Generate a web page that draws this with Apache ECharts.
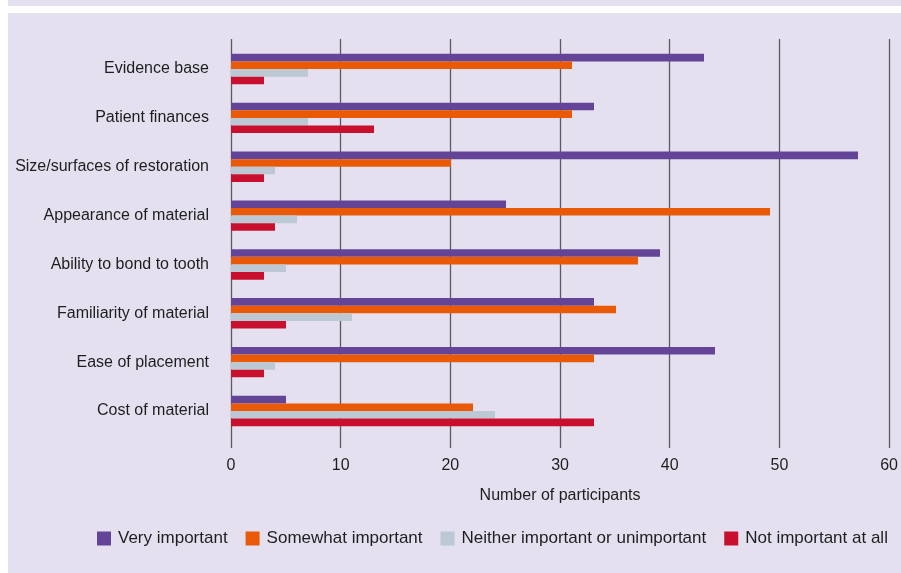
<!DOCTYPE html>
<html>
<head>
<meta charset="utf-8">
<script src="https://cdn.jsdelivr.net/npm/echarts@6/dist/echarts.min.js"></script>
<style>
html,body{margin:0;padding:0;background:#ffffff;}
#chart{width:901px;height:573px;}
</style>
</head>
<body>
<div id="chart"></div>
<script>
const categories = ["Evidence base","Patient finances","Size/surfaces of restoration","Appearance of material","Ability to bond to tooth","Familiarity of material","Ease of placement","Cost of material"];
const seriesNames = ["Very important","Somewhat important","Neither important or unimportant","Not important at all"];
const veryImportant = [43,33,57,25,39,33,44,5];
const somewhatImportant = [31,31,20,49,37,35,33,22];
const neitherImportant = [7,7,4,6,5,11,4,24];
const notImportant = [3,13,3,4,3,5,3,33];
const xTicks = [0,10,20,30,40,50,60];

const colors = ["#634497","#ea5a06","#bcc8d3","#c8102e"];
const FONT = "Liberation Sans, Arial, sans-serif";
const TXT = "#1e1e1e";

const chart = echarts.init(document.getElementById('chart'), null, {renderer:'canvas'});
const values = [veryImportant, somewhatImportant, neitherImportant, notImportant];

const option = {
  backgroundColor: "#e4e0ef",
  animation: false,
  textStyle: {fontFamily: FONT},
  graphic: [
    {type:'rect', left:0, top:0, shape:{width:8, height:573}, style:{fill:'#ffffff'}, z:-10},
    {type:'rect', left:0, top:6, shape:{width:901, height:7}, style:{fill:'#ffffff'}, z:-10}
  ],
  legend: {
    left: 97, top: 530, padding: 0,
    itemWidth: 14, itemHeight: 14, itemGap: 18,
    icon: 'rect',
    itemStyle: {borderWidth: 0},
    textStyle: {fontFamily: FONT, fontSize: 17, color: TXT, padding:[0,0,0,2]},
    data: seriesNames
  },
  grid: [
    {left: 231, top: 39, width: 660, height: 409},
    {left: 231, top: 44.6, width: 660, height: 390.8}
  ],
  xAxis: [
    {
      type: 'value', gridIndex: 0, min: xTicks[0], max: xTicks[xTicks.length-1], interval: 10,
      axisLine: {show:false}, axisTick: {show:false},
      splitLine: {show:true, lineStyle:{color:'#5c5a60', width:1.3}},
      axisLabel: {fontFamily: FONT, fontSize: 16, color: TXT, margin: 10,
        formatter: v => xTicks.includes(v) ? String(v) : ''},
      name: 'Number of participants', nameLocation: 'middle', nameGap: 40,
      nameTextStyle: {fontFamily: FONT, fontSize: 16, color: TXT}
    },
    {
      type: 'value', gridIndex: 1, min: xTicks[0], max: xTicks[xTicks.length-1], show: false
    }
  ],
  yAxis: [
    {type:'category', gridIndex:0, data: categories, show:false, inverse:true},
    {
      type: 'category', gridIndex: 1, data: categories, inverse: true,
      axisLine: {show:false}, axisTick: {show:false}, splitLine: {show:false},
      axisLabel: {fontFamily: FONT, fontSize: 16, color: TXT, margin: 22, padding:[3,0,0,0]}
    }
  ],
  series: seriesNames.map((name, i) => ({
    name: name,
    type: 'bar',
    xAxisIndex: 1, yAxisIndex: 1,
    data: values[i],
    barWidth: 7.6,
    barGap: '0%',
    itemStyle: {color: colors[i]},
    z: 3
  }))
};
chart.setOption(option);
</script>
</body>
</html>
